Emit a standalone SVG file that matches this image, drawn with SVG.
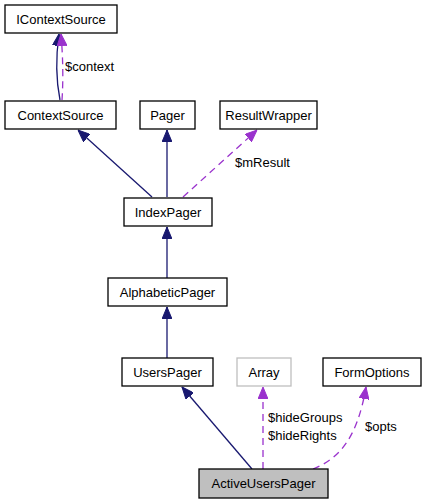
<svg xmlns="http://www.w3.org/2000/svg" width="425" height="504" viewBox="0 0 425 504">
<style>
.box{fill:#ffffff;stroke:#000000;stroke-width:1.3}
.t{font-family:"Liberation Sans",Arial,sans-serif;font-size:13px;fill:#000000}
.c{text-anchor:middle}
.inh{fill:none;stroke:#191970;stroke-width:1.3}
.use{fill:none;stroke:#9a32cd;stroke-width:1.3;stroke-dasharray:7,5}
</style>
<defs>
<marker id="an" markerUnits="userSpaceOnUse" markerWidth="12" markerHeight="10" refX="12" refY="5" orient="auto"><path d="M0,0 L12,5 L0,10 z" fill="#191970" stroke="#191970"/></marker>
<marker id="ap" markerUnits="userSpaceOnUse" markerWidth="12" markerHeight="10" refX="12" refY="5" orient="auto"><path d="M0,0 L12,5 L0,10 z" fill="#9a32cd" stroke="#9a32cd"/></marker>
</defs>
<rect width="425" height="504" fill="#ffffff"/>
<g id="edges">
<path class="inh" d="M60,100 Q54,70 59,34" marker-end="url(#an)"/>
<path class="use" d="M62,100 Q64,70 61,34" marker-end="url(#ap)"/>
<path class="inh" d="M152,197 L78,130" marker-end="url(#an)"/>
<path class="inh" d="M167,197 L167,130" marker-end="url(#an)"/>
<path class="use" d="M183,197 L257,130" marker-end="url(#ap)"/>
<path class="inh" d="M167,278 L167,227" marker-end="url(#an)"/>
<path class="inh" d="M167,358 L167,307" marker-end="url(#an)"/>
<path class="inh" d="M252,469 L182,387" marker-end="url(#an)"/>
<path class="use" d="M263,469 L263,387" marker-end="url(#ap)"/>
<path class="use" d="M313,469 C338,459 357,440 366,387" marker-end="url(#ap)"/>
<text class="t" x="65" y="71">$context</text>
<text class="t" x="235" y="167">$mResult</text>
<text class="t" x="268" y="422">$hideGroups</text>
<text class="t" x="268" y="440">$hideRights</text>
<text class="t" x="365" y="431">$opts</text>
</g>
<g id="IContextSource"><rect class="box" x="5" y="5" width="112" height="28"/><text class="t c" x="61" y="24">IContextSource</text></g>
<g id="ContextSource"><rect class="box" x="5" y="101" width="111" height="28"/><text class="t c" x="60.5" y="120">ContextSource</text></g>
<g id="Pager"><rect class="box" x="140" y="101" width="55" height="28"/><text class="t c" x="167.5" y="120">Pager</text></g>
<g id="ResultWrapper"><rect class="box" x="220" y="101" width="97" height="28"/><text class="t c" x="268.5" y="120">ResultWrapper</text></g>
<g id="IndexPager"><rect class="box" x="124" y="198" width="88" height="28"/><text class="t c" x="168" y="217">IndexPager</text></g>
<g id="AlphabeticPager"><rect class="box" x="108" y="278" width="119" height="28"/><text class="t c" x="167.5" y="297">AlphabeticPager</text></g>
<g id="UsersPager"><rect class="box" x="122" y="358" width="91" height="28"/><text class="t c" x="167.5" y="377">UsersPager</text></g>
<g id="Array"><rect class="box" x="237" y="358" width="54" height="28" style="stroke:#bfbfbf"/><text class="t c" x="264" y="377">Array</text></g>
<g id="FormOptions"><rect class="box" x="323" y="358" width="98" height="28"/><text class="t c" x="372" y="377">FormOptions</text></g>
<g id="ActiveUsersPager"><rect class="box" x="199" y="469" width="129" height="29" style="fill:#bfbfbf"/><text class="t c" x="263.5" y="488">ActiveUsersPager</text></g>
</svg>
